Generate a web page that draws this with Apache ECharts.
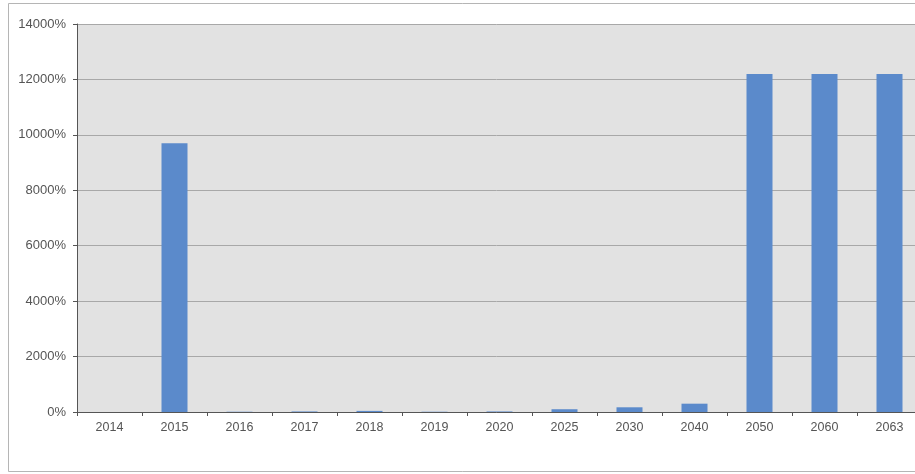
<!DOCTYPE html>
<html>
<head>
<meta charset="utf-8">
<script src="https://cdn.jsdelivr.net/npm/echarts@6/dist/echarts.min.js"></script>
<style>
html,body{margin:0;padding:0;background:#fff;}
#chart{width:915px;height:474px;}
</style>
</head>
<body>
<div id="chart"></div>
<script>
const categories = ['2014','2015','2016','2017','2018','2019','2020','2025','2030','2040','2050','2060','2063'];
const values = [0, 9700, 10, 20, 40, 10, 20, 100, 170, 300, 12200, 12200, 12200];
const yTicks = { min: 0, max: 14000, interval: 2000 };

const chart = echarts.init(document.getElementById('chart'));
chart.setOption({
  animation: false,
  backgroundColor: '#ffffff',
  graphic: [{
    type: 'rect',
    shape: { x: 8.5, y: 3.5, width: 940, height: 468 },
    style: { fill: 'none', stroke: '#b5b5b5', lineWidth: 1 },
    z: -10
  }],
  grid: {
    left: 77, top: 24, width: 845, bottom: 62,
    outerBoundsMode: 'none', containLabel: false,
    show: true, backgroundColor: '#e2e2e2', borderWidth: 0
  },
  xAxis: {
    type: 'category',
    data: categories,
    axisLine: { lineStyle: { color: '#555', width: 1 } },
    axisTick: { show: true, length: 4, lineStyle: { color: '#555' } },
    axisLabel: { color: '#555', fontSize: 12.5, fontFamily: 'Arial, Liberation Sans, sans-serif', margin: 9 }
  },
  yAxis: {
    type: 'value',
    min: yTicks.min, max: yTicks.max, interval: yTicks.interval,
    axisLine: { show: true, lineStyle: { color: '#555', width: 1 } },
    axisTick: { show: true, length: 4, lineStyle: { color: '#555' } },
    axisLabel: { color: '#555', fontSize: 13, fontFamily: 'Arial, Liberation Sans, sans-serif', margin: 11,
      formatter: function (v) { return String(v) + '%'; } },
    splitLine: { show: true, lineStyle: { color: '#a8a8a8', width: 1 } }
  },
  series: [{
    type: 'bar',
    data: values,
    barWidth: 26,
    itemStyle: { color: '#5b8acb' }
  }]
});
</script>
</body>
</html>
